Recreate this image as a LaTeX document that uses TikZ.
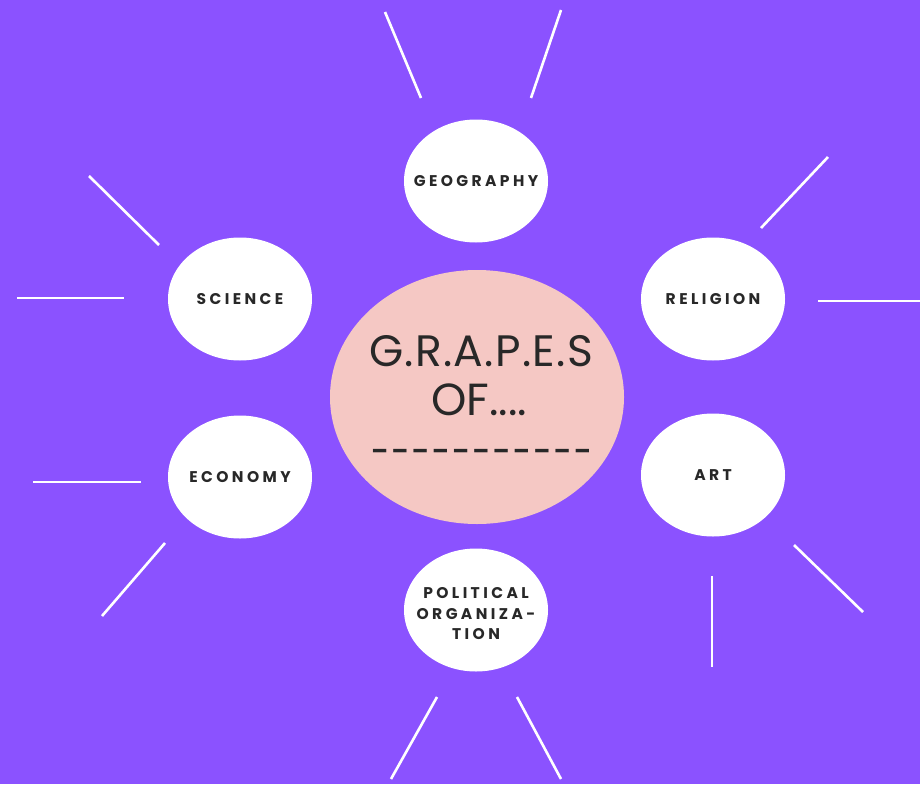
\documentclass[tikz,border=0pt]{standalone}
\usepackage{fontspec}
\setmainfont{Poppins}
\usetikzlibrary{shapes.geometric}
\definecolor{bgpurple}{RGB}{139,82,255}
\definecolor{hubpink}{RGB}{245,200,196}
\definecolor{inkgray}{RGB}{40,40,40}
\begin{document}
\begin{tikzpicture}[x=1pt,y=-1pt,
  bubble/.style={ellipse,fill=white,minimum width=144pt,minimum height=123pt,inner sep=0pt},
  topictext/.style={align=center,text=inkgray,inner sep=0pt,
    font=\fontsize{15.5}{20.5}\selectfont\bfseries\addfontfeatures{LetterSpace=22}},
  ray/.style={white,line width=2.6pt},
  hub/.style={ellipse,fill=hubpink,minimum width=294pt,minimum height=254pt,inner sep=0pt},
  hubtext/.style={text=inkgray,inner sep=0pt}]
% background
\fill[bgpurple] (0,0) rectangle (920,784);
\useasboundingbox (0,0) rectangle (920,784);

% central hub
\node[hub] (hub) at (477,397) {};
\node[hubtext,font=\fontsize{44}{46}\selectfont\addfontfeatures{LetterSpace=3}] (title) at (481,351) {G.R.A.P.E.S};
\node[hubtext,font=\fontsize{45}{46}\selectfont] (of) at (479,400) {OF....};
\node[hubtext,font=\fontsize{24}{26}\selectfont\bfseries\addfontfeatures{LetterSpace=15}] (blank) at (481,454) {–––––––––––};

% topic bubbles
\node[bubble] (geo) at (476,181) {};
\node[bubble] (sci) at (240,299) {};
\node[bubble] (rel) at (713,299) {};
\node[bubble] (eco) at (240,477) {};
\node[bubble] (art) at (713,475) {};
\node[bubble] (pol) at (476,610) {};
\node[topictext] (geot) at (geo) {GEOGRAPHY};
\node[topictext] (scit) at (sci) {SCIENCE};
\node[topictext] (relt) at (rel) {RELIGION};
\node[topictext] (ecot) at (eco) {ECONOMY};
\node[topictext] (artt) at (art) {ART};
\node[topictext] (polt) at ([yshift=-4pt]pol.center) {POLITICAL\\ORGANIZA-\\TION};

% radiating strokes
\coordinate (g1a) at (385,12);  \coordinate (g1b) at (421,98);
\coordinate (g2a) at (561,10);  \coordinate (g2b) at (531,98);
\coordinate (s1a) at (89,176);  \coordinate (s1b) at (159,245);
\coordinate (s2a) at (17,298);  \coordinate (s2b) at (124,298);
\coordinate (r1a) at (828,157); \coordinate (r1b) at (761,228);
\coordinate (r2a) at (818,301); \coordinate (r2b) at (920,301);
\coordinate (e1a) at (33,482);  \coordinate (e1b) at (141,482);
\coordinate (e2a) at (165,543); \coordinate (e2b) at (102,616);
\coordinate (a1a) at (794,545); \coordinate (a1b) at (863,612);
\coordinate (a2a) at (712,576); \coordinate (a2b) at (712,667);
\coordinate (p1a) at (437,697); \coordinate (p1b) at (391,779);
\coordinate (p2a) at (517,697); \coordinate (p2b) at (561,779);
\foreach \r in {g1,g2,s1,s2,r1,r2,e1,e2,a1,a2,p1,p2}
  \draw[ray] (\r a) -- (\r b);
\end{tikzpicture}
\end{document}
